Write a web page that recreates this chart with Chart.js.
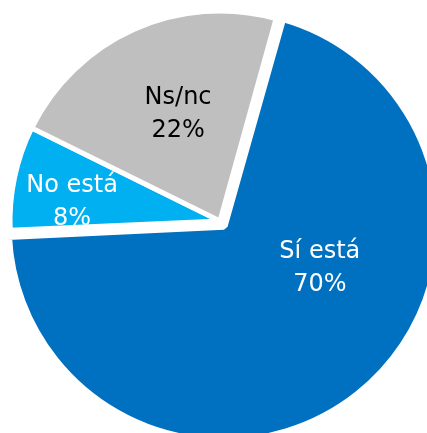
<!DOCTYPE html>
<html><head><meta charset="utf-8">
<script src="https://cdn.jsdelivr.net/npm/chart.js@4/dist/chart.umd.min.js"></script>
<style>
html,body{margin:0;padding:0;background:#fff;overflow:hidden;}
#wrap{position:relative;width:427px;height:433px;overflow:hidden;}
canvas{position:absolute;left:0;top:0;}
</style></head><body>
<div id="wrap"><canvas id="c" width="440" height="442" style="width:440px;height:442px"></canvas></div>
<script>
const categories = ['Sí está', 'No está', 'Ns/nc'];
const values = [70, 8, 22];
const valueLabels = ['70%', '8%', '22%'];
const colors = ['#0070C0', '#00B0F0', '#BFBFBF'];
const textColors = ['#ffffff', '#ffffff', '#000000'];
const labelPlace = [ {along:0.39, r:0.50}, {along:0.333, r:0.71}, {along:0.533, r:0.545} ];

const labelPlugin = {
  id: 'sliceLabels',
  afterDatasetsDraw(chart) {
    const ctx = chart.ctx;
    const meta = chart.getDatasetMeta(0);
    ctx.save();
    ctx.font = '24px "DejaVu Sans", sans-serif';
    ctx.textAlign = 'center';
    ctx.textBaseline = 'middle';
    meta.data.forEach((arc, i) => {
      const p = arc.getProps(['x','y','startAngle','endAngle','outerRadius'], true);
      const half = (p.startAngle + p.endAngle) / 2;
      const circ = p.endAngle - p.startAngle;
      const shift = (arc.options.offset || 0) / 4;
      const cx = p.x + Math.cos(half) * shift;
      const cy = p.y + Math.sin(half) * shift;
      const a = p.startAngle + circ * labelPlace[i].along;
      const rr = p.outerRadius * labelPlace[i].r;
      const x = cx + Math.cos(a) * rr;
      const y = cy + Math.sin(a) * rr;
      ctx.fillStyle = textColors[i];
      ctx.fillText(categories[i], x, y - 16.5);
      ctx.fillText(valueLabels[i], x, y + 16.5);
    });
    ctx.restore();
  }
};

new Chart(document.getElementById('c'), {
  type: 'pie',
  data: {
    labels: categories,
    datasets: [{
      data: values,
      backgroundColor: colors,
      borderColor: '#ffffff',
      borderWidth: [8, 5, 5],
      offset: [24, 0, 0]
    }]
  },
  options: {
    responsive: false,
    animation: false,
    rotation: 15.5,
    radius: 210,
    layout: { padding: 0 },
    plugins: { legend: { display: false }, tooltip: { enabled: false } }
  },
  plugins: [labelPlugin]
});
</script>
</body></html>
